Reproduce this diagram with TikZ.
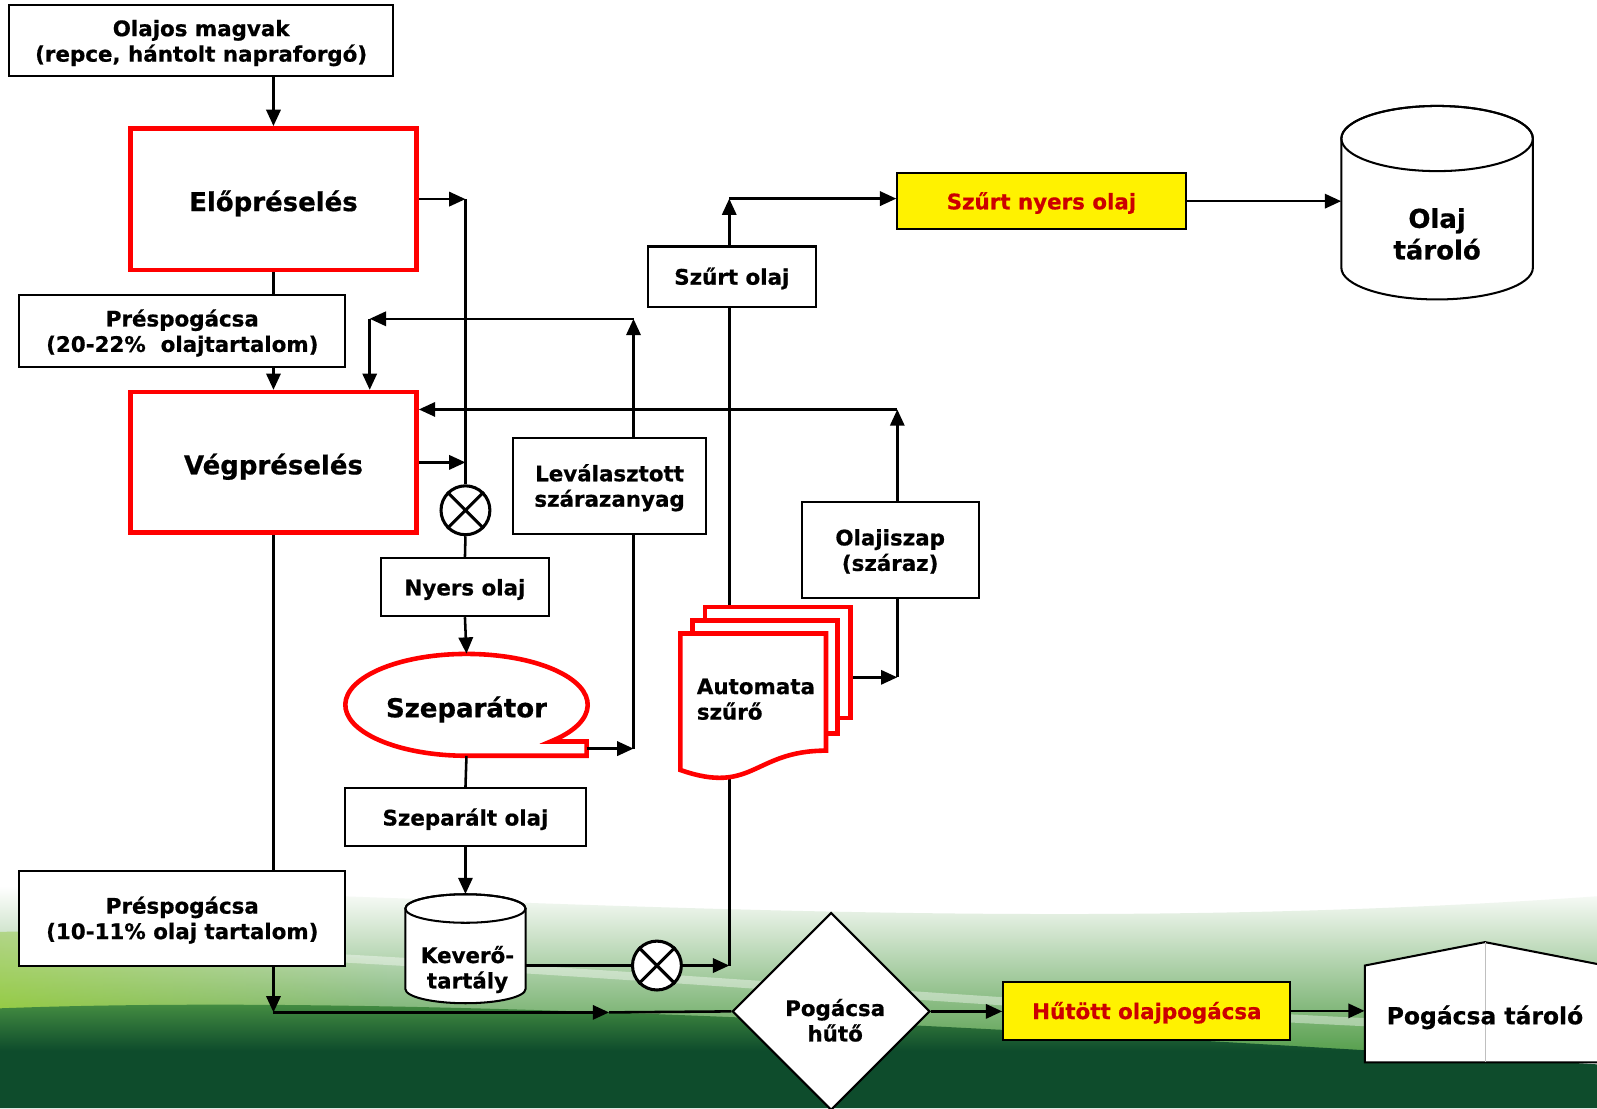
\documentclass[tikz,border=0pt]{standalone}
\usepackage{fontspec}
\setmainfont{DejaVu Sans}[BoldFeatures={FakeBold=0.7}]
\usetikzlibrary{arrows.meta,shapes.geometric,fadings}
\definecolor{hred}{RGB}{204,0,0}
\definecolor{gmid}{RGB}{80,155,70}
\definecolor{glight}{RGB}{175,212,130}
\definecolor{gdark}{RGB}{14,76,44}
\definecolor{gyel}{RGB}{150,205,60}
\newcommand{\tx}[2][3pt]{\raisebox{-#1}[\height][\depth]{\begin{tabular}{@{}c@{}}#2\end{tabular}}}
\newcommand{\txl}[2][3pt]{\raisebox{-#1}[\height][\depth]{\begin{tabular}{@{}l@{}}#2\end{tabular}}}
\begin{document}
\begin{tikzpicture}[x=1pt,y=-1pt,
  every node/.style={font=\fontsize{21}{25}\selectfont\bfseries, align=center, inner sep=0pt},
  box/.style={rectangle, draw=black, line width=2pt, fill=white},
  redbox/.style={rectangle, draw=red, line width=4.5pt, fill=white},
  ybox/.style={rectangle, draw=black, line width=2pt, fill=yellow, text=hred},
  ln/.style={line width=2.5pt, black},
  arr/.style={line width=2.5pt, black, -{Triangle[length=16pt,width=14pt]}},
  big/.style={font=\fontsize{25.5}{31}\selectfont\bfseries},
  xcirc/.style={circle, draw=black, line width=3pt, fill=white, minimum size=48pt},
  ghost/.style={rectangle, draw=none, fill=none}]
% ---------- background ----------
\clip (0,0) rectangle (1568,1088);
\fill[white] (0,0) rectangle (1568,1088);
\shade[top color=white, bottom color=gmid] (0,870) .. controls (500,880) and (1000,920) .. (1568,880) -- (1568,1040) -- (0,1010) -- cycle;
\shade[top color=glight, bottom color=gyel, path fading=east, opacity=0.9] (0,915) .. controls (100,912) and (250,925) .. (380,945) -- (380,995) .. controls (250,985) and (100,990) .. (0,995) -- cycle;
\shade[top color=gmid, bottom color=gdark, middle color=gdark] (0,990) .. controls (400,975) and (1000,1010) .. (1568,1045) -- (1568,1088) -- (0,1088) -- cycle;
\draw[white, line width=8pt, opacity=0.4] (150,932) .. controls (600,950) and (1100,1000) .. (1568,1012);
% ---------- nodes ----------
\node[box, minimum width=377pt, minimum height=70pt] (olajos) at (197.5,40) {\tx{Olajos magvak\\(repce, hántolt napraforgó)}};
\node[redbox, big, minimum width=281pt, minimum height=139pt] (elo) at (268.5,195.5) {\tx[5.5pt]{Előpréselés}};
\node[box, minimum width=320pt, minimum height=70pt] (pres1) at (179,325) {\tx{Préspogácsa\\(20-22\%~ olajtartalom)}};
\node[redbox, big, minimum width=281pt, minimum height=138pt] (veg) at (268.5,454) {\tx[5.5pt]{Végpréselés}};
\node[xcirc] (cx1) at (457,501) {};
\draw[line width=3pt] (cx1.north west) -- (cx1.south east) (cx1.north east) -- (cx1.south west);
\node[box, minimum width=165pt, minimum height=57pt] (nyers) at (456.5,576.5) {\tx{Nyers olaj}};
\node[box, minimum width=189pt, minimum height=94pt] (lev) at (598.5,477) {\tx{Leválasztott\\szárazanyag}};
\filldraw[draw=red, line width=4.5pt, fill=white] (540.7,728) arc[start angle=46, end angle=-270, x radius=119, y radius=50] -- (576,742) -- (576,728) -- cycle;
\node[ghost, ellipse, big, minimum width=238pt, minimum height=100pt] (szep) at (458,692) {\tx[6pt]{Szeparátor}};
\node[box, minimum width=236pt, minimum height=57pt] (szepolaj) at (457,802.5) {\tx{Szeparált olaj}};
\filldraw[line width=2pt, fill=white] (398,892) -- (398,971) arc[start angle=180, end angle=0, x radius=59, y radius=14] -- (516,892) arc[start angle=0, end angle=-180, x radius=59, y radius=14] -- cycle;
\draw[line width=2pt] (457,892) ellipse [x radius=59, y radius=14];
\node[ghost, minimum width=118pt, minimum height=107pt] (kev) at (457,931.5) {};
\node (kevtxt) at (459,950) {\tx{Keverő-\\tartály}};
\node[xcirc] (cx2) at (645,948) {};
\draw[line width=3pt] (cx2.north west) -- (cx2.south east) (cx2.north east) -- (cx2.south west);
\node[box, minimum width=320pt, minimum height=93pt] (pres2) at (179,901.5) {\tx{Préspogácsa\\(10-11\% olaj tartalom)}};
\node[diamond, aspect=1, draw=black, line width=2pt, fill=white, minimum width=194pt, minimum height=194pt] (huto) at (816,993) {};
\node (hutotxt) at (820,1002) {\tx{Pogácsa\\hűtő}};
\node[ybox, minimum width=282pt, minimum height=57pt] (hutott) at (1126,992.5) {\tx{Hűtött olajpogácsa}};
\filldraw[line width=2pt, fill=white] (1340,1043) -- (1340,948) -- (1458,925) -- (1576,948) -- (1576,1043) -- cycle;
\draw[gray!50, line width=0.8pt] (1458,925) -- (1458,1043);
\node[ghost, minimum width=236pt, minimum height=95pt, font=\fontsize{23}{28}\selectfont\bfseries] (potar) at (1458,996) {\tx[4pt]{Pogácsa tároló}};
\node[box, minimum width=165pt, minimum height=59pt] (szurtolaj) at (718.5,271.5) {\tx{Szűrt olaj}};
\node[ybox, minimum width=283pt, minimum height=55pt] (sznyers) at (1022.5,197.5) {\tx{Szűrt nyers olaj}};
\filldraw[line width=2pt, fill=white] (1317,136) -- (1317,263) arc[start angle=180, end angle=0, x radius=94, y radius=31] -- (1505,136) arc[start angle=0, end angle=-180, x radius=94, y radius=32] -- cycle;
\draw[line width=2pt] (1411,136) ellipse [x radius=94, y radius=32];
\node[ghost, minimum width=188pt, minimum height=190pt] (olajt) at (1411,199) {};
\node[big] (olajtxt) at (1411,230) {\tx{Olaj\\tároló}};
\node[box, minimum width=174pt, minimum height=94pt] (olajiszap) at (874,540) {\tx{Olajiszap\\(száraz)}};
% ---------- coordinates ----------
\coordinate (j1) at (457,195.5);
\coordinate (b0) at (268.5,994);
\coordinate (b1) at (598,994);
\coordinate (tail) at (576,735);
\coordinate (k1) at (622,735);
\coordinate (k2) at (622,313);
\coordinate (k3) at (363,313);
\coordinate (n0) at (716,948);
\coordinate (n1) at (716,195);
\coordinate (szr) at (835,665);
\coordinate (m1) at (881,665);
\coordinate (m2) at (881,402);
% ---------- connectors ----------
\draw[arr] (olajos.south -| elo.north) -- (elo.north);
\draw[arr] (elo.east) -- (j1);
\draw[ln] (j1) -- (cx1.north);
\draw[arr] (veg.east) -- (veg.east -| cx1.north);
\draw[ln] (cx1.south) -- (nyers.north);
\draw[arr] (nyers.south) -- (szep.north);
\draw[ln] (elo.south) -- (elo.south |- pres1.north);
\draw[arr] (pres1.south -| veg.north) -- (veg.north);
\draw[ln] (veg.south) -- (veg.south |- pres2.north);
\draw[arr] (pres2.south -| b0) -- (b0);
\draw[arr] (b0) -- (b1);
\draw[ln] (b1) -- (huto.west);
\draw[ln] (szep.south) -- (szepolaj.north);
\draw[arr] (szepolaj.south) -- (kev.north);
\draw[ln] (kev.east |- cx2.west) -- (cx2.west);
\draw[arr] (cx2.east) -- (n0);
\draw[ln] (n0) -- (n0 |- szurtolaj.south);
\draw[arr] (n0 |- szurtolaj.north) -- (n1);
\draw[arr] (n1) -- (n1 -| sznyers.west);
\draw[arr] (sznyers.east) -- (sznyers.east -| olajt.west);
\draw[arr] (huto.east) -- (huto.east -| hutott.west);
\draw[arr] (hutott.east) -- (hutott.east -| potar.west);
\draw[arr] (tail) -- (k1);
\draw[ln] (k1) -- (k1 |- lev.south);
\draw[arr] (k1 |- lev.north) -- (k2);
\draw[arr] (k2) -- (k3);
\draw[arr] (k3) -- (k3 |- veg.north);
\draw[arr] (szr) -- (m1);
\draw[ln] (m1) -- (m1 |- olajiszap.south);
\draw[arr] (m1 |- olajiszap.north) -- (m2);
\draw[arr] (m2) -- (m2 -| veg.east);
% ---------- automata szuro (multi-document) ----------
\filldraw[draw=red, line width=4.5pt, fill=white] (692,596) rectangle (835,705);
\filldraw[draw=red, line width=4.5pt, fill=white] (680,609) rectangle (822,720);
\filldraw[draw=red, line width=4.5pt, fill=white] (668,622) -- (811,622) -- (811,737) .. controls (739.5,737) and (739.5,781) .. (668,756) -- cycle;
\node[anchor=west] (szuro) at (684,686) {\txl{Automata\\szűrő}};
\end{tikzpicture}
\end{document}
